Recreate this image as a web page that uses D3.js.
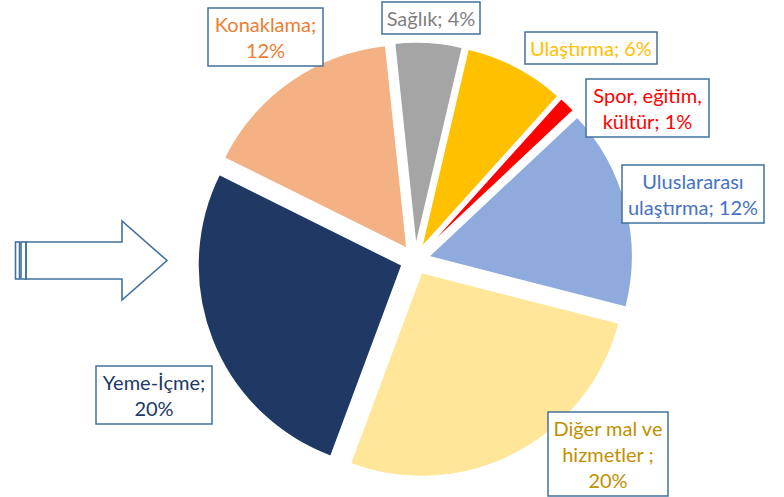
<!DOCTYPE html>
<html>
<head>
<meta charset="utf-8">
<script src="https://cdn.jsdelivr.net/npm/d3@7"></script>
<style>
  html, body { margin: 0; padding: 0; background: #fff; }
  svg { display: block; }
  text { font-family: Lato, "Open Sans", sans-serif; }
</style>
</head>
<body>
<svg id="chart" width="784" height="497"></svg>
<script>
// slices, clockwise from the top
const categories = ['Sağlık', 'Ulaştırma', 'Spor, eğitim, kültür', 'Uluslararası ulaştırma',
  'Diğer mal ve hizmetler', 'Yeme-İçme', 'Konaklama']
const values = [4, 6, 1, 12, 20, 20, 12]
const sliceColors = ['#A5A5A5', '#FFC000', '#FF0000', '#8FAADC', '#FFE699', '#203864', '#F4B183']
const labelColors = ['#7F7F7F', '#FFC000', '#FF0000', '#4472C4', '#BF9000', '#203864', '#ED7D31']
const labelLines = [
  ['Sağlık; 4%'],
  ['Ulaştırma; 6%'],
  ['Spor, eğitim,', 'kültür; 1%'],
  ['Uluslararası', 'ulaştırma; 12%'],
  ['Diğer mal ve', 'hizmetler ;', '20%'],
  ['Yeme-İçme;', '20%'],
  ['Konaklama;', '12%'],
]

// label boxes were placed by hand in the original
const labelBoxes = [
  {x: 382, y: 2, w: 98},
  {x: 525, y: 32, w: 132},
  {x: 586, y: 79, w: 123},
  {x: 622, y: 165, w: 142},
  {x: 548, y: 412, w: 120},
  {x: 96, y: 366, w: 116},
  {x: 208, y: 8, w: 115},
]

const cfg = {
  cx: 415,
  cy: 260,
  radius: 204,
  explode: 14,
  startDeg: -6,
  lineHeight: 26,
  boxPad: 3,
  fontSize: 20,
  boxStroke: '#41719C',
}

const svg = d3.select('#chart')
const rad = d => d * Math.PI / 180

function renderArrow () {
  const g = svg.append('g').attr('class', 'arrow')
    .attr('fill', 'none')
    .attr('stroke', cfg.boxStroke)
    .attr('stroke-width', 1.6)
  const top = 242, bottom = 279, headTop = 221, headBottom = 300
  const path = d3.path()
  path.moveTo(26, top)
  path.lineTo(122, top)
  path.lineTo(122, headTop)
  path.lineTo(167, (top + bottom) / 2)
  path.lineTo(122, headBottom)
  path.lineTo(122, bottom)
  path.lineTo(26, bottom)
  path.closePath()
  g.append('path').attr('d', path.toString())
  g.selectAll('rect').data([[15.5, 4], [21, 5]]).join('rect')
    .attr('x', d => d[0])
    .attr('y', top)
    .attr('width', d => d[1])
    .attr('height', bottom - top)
}

function renderPie () {
  const pie = d3.pie()
    .sort(null)
    .value(d => d.value)
    .startAngle(rad(cfg.startDeg))
    .endAngle(rad(cfg.startDeg + 360))
  const arc = d3.arc().innerRadius(0).outerRadius(cfg.radius)
  const data = categories.map((name, i) => ({name, value: values[i], color: sliceColors[i]}))

  svg.append('g')
    .attr('transform', `translate(${cfg.cx}, ${cfg.cy})`)
    .selectAll('path').data(pie(data)).join('path')
    .attr('d', arc)
    .attr('transform', d => {
      const mid = (d.startAngle + d.endAngle) / 2
      return `translate(${cfg.explode * Math.sin(mid)}, ${-cfg.explode * Math.cos(mid)})`
    })
    .attr('fill', d => d.data.color)
    .attr('stroke', '#fff')
    .attr('stroke-width', 1.5)
}

function renderLabels () {
  const g = svg.append('g').attr('class', 'labels')
  g.selectAll('g.label').data(labelBoxes).join('g')
    .attr('class', 'label')
    .each(function (box, i) {
      const lines = labelLines[i]
      const h = lines.length * cfg.lineHeight + cfg.boxPad * 2
      const lg = d3.select(this)
      lg.append('rect')
        .attr('x', box.x)
        .attr('y', box.y)
        .attr('width', box.w)
        .attr('height', h)
        .attr('fill', '#fff')
        .attr('stroke', cfg.boxStroke)
        .attr('stroke-width', 1.5)
      lg.selectAll('text').data(lines).join('text')
        .attr('x', box.x + box.w / 2)
        .attr('y', (d, j) => box.y + cfg.boxPad + 21 + j * cfg.lineHeight)
        .attr('text-anchor', 'middle')
        .attr('font-size', cfg.fontSize)
        .attr('fill', labelColors[i])
        .text(d => d)
    })
}

renderArrow()
renderPie()
renderLabels()
</script>
</body>
</html>
